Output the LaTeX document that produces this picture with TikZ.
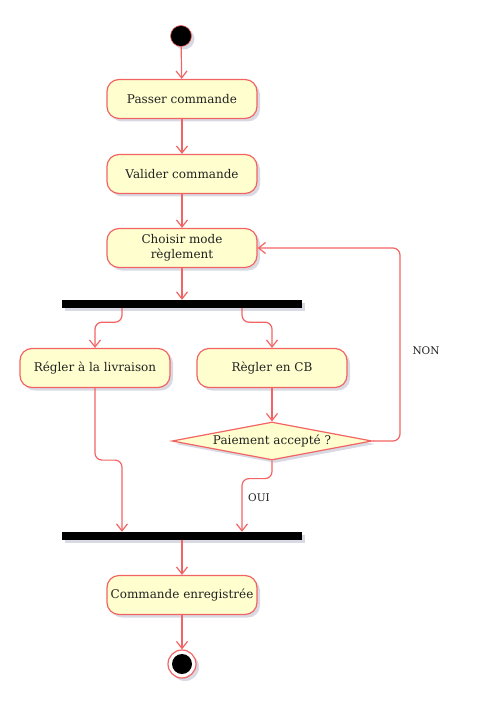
\documentclass[tikz,border=0pt]{standalone}
\usepackage{fontspec}
\setmainfont{DejaVu Serif}
\usetikzlibrary{arrows.meta,shapes.geometric,shadows}
\definecolor{lred}{HTML}{F26464}
\definecolor{boxfill}{HTML}{FEFECE}
\definecolor{txt}{HTML}{222222}
\begin{document}
\begin{tikzpicture}[x=1pt,y=-1pt,
  shadowed/.style={drop shadow={shadow xshift=3pt,shadow yshift=-3pt,opacity=0.15,fill=black!70!blue}},
  act/.style={draw=lred, fill=boxfill, rounded corners=12pt, minimum width=150pt, minimum height=39pt,
    line width=1.2pt, align=center, font=\fontsize{12}{14.5}\selectfont, text=txt, shadowed, inner sep=2pt},
  bar/.style={fill=black, minimum width=240pt, minimum height=8pt, inner sep=0pt, shadowed},
  dec/.style={diamond, aspect=5.2, inner sep=0pt, draw=lred, fill=boxfill, line width=1.2pt,
    minimum width=200pt, minimum height=38pt, font=\fontsize{12}{14.5}\selectfont, text=txt, shadowed},
  conn/.style={draw=lred, line width=1.2pt, rounded corners=7pt, -{Straight Barb[length=7pt,width=11pt]}},
  lbl/.style={font=\fontsize{10.5}{12}\selectfont, text=txt}]
\useasboundingbox (0,0) rectangle (479,711);
\node[circle, fill=black, draw=lred, line width=0.6pt, minimum size=21pt, inner sep=0pt, shadowed] (start) at (181,36) {};
\node[act] (passer) at (182,99) {Passer commande};
\node[act] (valider) at (182,174) {Valider commande};
\node[act] (choisir) at (182,248) {Choisir mode\\règlement};
\node[bar] (fork) at (182,304) {};
\node[act] (livr) at (95,368) {Régler à la livraison};
\node[act] (cb) at (272,368) {Règler en CB};
\node[dec] (paie) at (272,441) {Paiement accepté ?};
\node[bar] (join) at (182,536) {};
\node[act] (cmd) at (182,595) {Commande enregistrée};
\node[circle, draw=lred, fill=white, line width=1.2pt, minimum size=28pt, inner sep=0pt, shadowed] (end) at (182,664) {};
\node[circle, fill=black, minimum size=20pt, inner sep=0pt] (endin) at (end.center) {};
\coordinate (loop) at (400,248);
\draw[conn] (start) -- (passer);
\draw[conn] (passer) -- (valider);
\draw[conn] (valider) -- (choisir);
\draw[conn] (choisir) -- (fork);
\draw[conn] ([xshift=-60pt]fork.south) -- ++(0,14) -| (livr.north);
\draw[conn] ([xshift=60pt]fork.south) -- ++(0,14) -| (cb.north);
\draw[conn] (cb) -- (paie);
\draw[conn] (paie.east) -| (loop) -- (choisir.east);
\node[lbl] (non) at (426,351) {NON};
\draw[conn] (paie.south) -- ++(0,18) -| ([xshift=60pt]join.north);
\node[lbl] (oui) at (259,498) {OUI};
\draw[conn] (livr.south) -- ++(0,72) -| ([xshift=-60pt]join.north);
\draw[conn] (join) -- (cmd);
\draw[conn] (cmd) -- (end);
\end{tikzpicture}
\end{document}
